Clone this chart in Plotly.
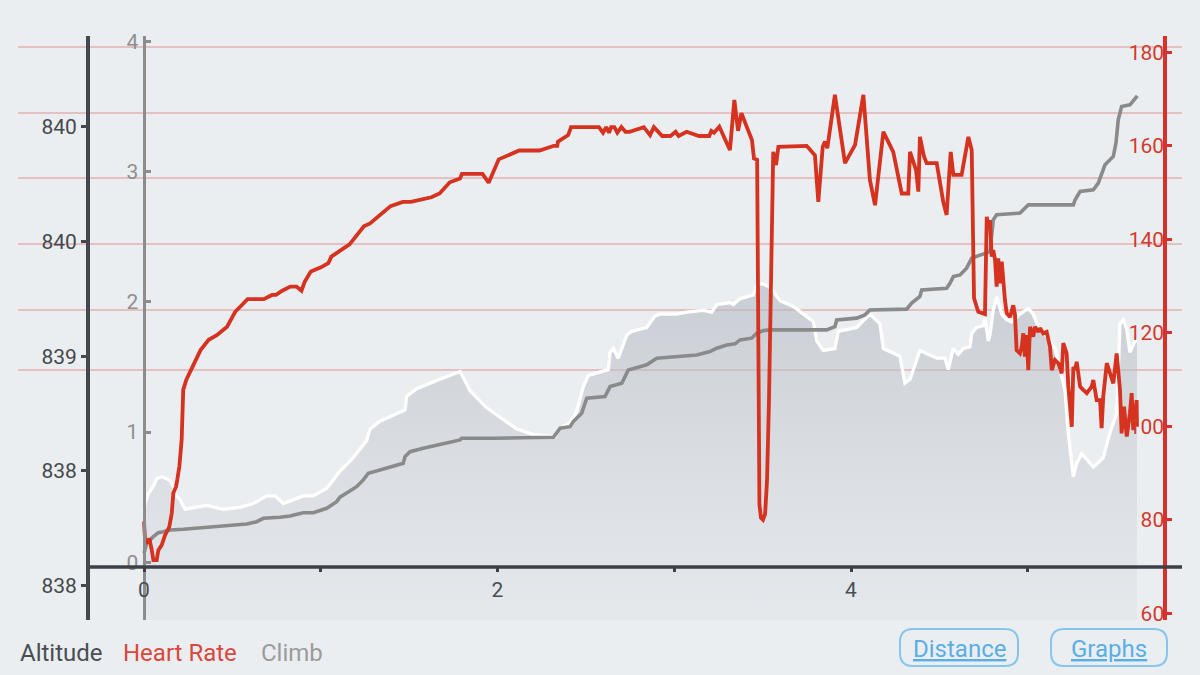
import plotly.graph_objects as go

# ---------------- data ----------------
# Altitude (m) against distance (km)
alt_km = [0, 0.006, 0.024, 0.053, 0.072, 0.100, 0.128, 0.147, 0.166, 0.185,
          0.204, 0.232, 0.355, 0.449, 0.543, 0.618, 0.694, 0.741, 0.788, 0.901,
          0.958, 1.034, 1.109, 1.184, 1.260, 1.279, 1.335, 1.477, 1.486, 1.543,
          1.675, 1.788, 1.806, 1.844, 1.939, 2.014, 2.109, 2.203, 2.325, 2.344,
          2.410, 2.448, 2.485, 2.514, 2.580, 2.627, 2.637, 2.655, 2.683, 2.731,
          2.759, 2.844, 2.891, 2.919, 3.014, 3.070, 3.164, 3.212, 3.240, 3.315,
          3.334, 3.372, 3.447, 3.466, 3.495, 3.542, 3.560, 3.598, 3.674, 3.730,
          3.787, 3.806, 3.843, 3.909, 3.928, 4.032, 4.107, 4.164, 4.183, 4.277,
          4.305, 4.334, 4.390, 4.485, 4.532, 4.550, 4.579, 4.607, 4.635, 4.673,
          4.683, 4.711, 4.749, 4.758, 4.777, 4.786, 4.805, 4.824, 4.853, 4.881,
          4.909, 4.956, 5.003, 5.031, 5.060, 5.088, 5.126, 5.154, 5.183, 5.211,
          5.229, 5.258, 5.277, 5.305, 5.334, 5.371, 5.427, 5.465, 5.503, 5.522,
          5.541, 5.560, 5.578, 5.607, 5.618]
alt_m = [838.18, 838.23, 838.28, 838.32, 838.36, 838.37, 838.36, 838.35, 838.32, 838.27,
         838.25, 838.20, 838.22, 838.20, 838.21, 838.23, 838.27, 838.27, 838.23, 838.27,
         838.27, 838.31, 838.40, 838.47, 838.56, 838.62, 838.66, 838.72, 838.79, 838.83,
         838.88, 838.92, 838.89, 838.82, 838.73, 838.68, 838.62, 838.59, 838.58, 838.62,
         838.65, 838.71, 838.84, 838.90, 838.92, 838.93, 839.02, 839.04, 838.99, 839.11,
         839.13, 839.15, 839.21, 839.22, 839.22, 839.23, 839.24, 839.23, 839.27, 839.28,
         839.27, 839.30, 839.32, 839.37, 839.38, 839.36, 839.34, 839.29, 839.26, 839.22,
         839.18, 839.08, 839.03, 839.04, 839.13, 839.15, 839.22, 839.17, 839.04, 839.00,
         838.86, 838.88, 839.03, 838.99, 838.99, 838.93, 839.04, 839.01, 839.04, 839.05,
         839.12, 839.15, 839.16, 839.20, 839.08, 839.11, 839.24, 839.31, 839.22, 839.19,
         839.18, 839.22, 839.25, 839.22, 839.15, 839.13, 839.08, 839.04, 838.93, 838.82,
         838.60, 838.37, 838.44, 838.49, 838.46, 838.42, 838.47, 838.60, 838.70, 839.17,
         839.19, 839.14, 839.02, 839.08, 839.08]

# Cumulative climb (m) against distance (km)
climb_km = [0, 0.015, 0.053, 0.081, 0.109, 0.147, 0.222, 0.355, 0.449, 0.581,
            0.638, 0.675, 0.769, 0.826, 0.901, 0.958, 1.034, 1.090, 1.109, 1.203,
            1.241, 1.269, 1.335, 1.467, 1.477, 1.505, 1.580, 1.788, 1.797, 1.976,
            2.316, 2.335, 2.354, 2.410, 2.429, 2.476, 2.505, 2.608, 2.637, 2.703,
            2.740, 2.806, 2.844, 2.901, 2.995, 3.127, 3.202, 3.240, 3.297, 3.344,
            3.372, 3.438, 3.466, 3.504, 3.542, 3.862, 3.909, 3.919, 4.032, 4.079,
            4.107, 4.315, 4.343, 4.390, 4.400, 4.541, 4.560, 4.579, 4.617, 4.635,
            4.654, 4.683, 4.786, 4.805, 4.824, 4.956, 5.003, 5.258, 5.268, 5.296,
            5.371, 5.399, 5.437, 5.484, 5.499, 5.512, 5.531, 5.578, 5.607, 5.620]
climb_m = [0.069, 0.146, 0.197, 0.228, 0.235, 0.248, 0.254, 0.269, 0.274, 0.294,
           0.312, 0.338, 0.346, 0.356, 0.381, 0.381, 0.415, 0.466, 0.500, 0.581,
           0.633, 0.684, 0.709, 0.761, 0.812, 0.850, 0.876, 0.940, 0.953, 0.953,
           0.961, 0.992, 1.030, 1.042, 1.081, 1.145, 1.261, 1.273, 1.350, 1.376,
           1.478, 1.503, 1.517, 1.568, 1.580, 1.593, 1.619, 1.645, 1.670, 1.678,
           1.709, 1.722, 1.760, 1.780, 1.786, 1.786, 1.811, 1.862, 1.876, 1.901,
           1.939, 1.945, 1.991, 2.042, 2.093, 2.106, 2.144, 2.195, 2.208, 2.234,
           2.260, 2.337, 2.387, 2.631, 2.670, 2.683, 2.746, 2.746, 2.785, 2.849,
           2.862, 2.913, 3.054, 3.118, 3.221, 3.400, 3.502, 3.515, 3.566, 3.584]

# Heart rate (bpm) against distance (km)
hr_km = [0, 0.006, 0.019, 0.030, 0.044, 0.053, 0.072, 0.081, 0.100, 0.119,
         0.143, 0.157, 0.166, 0.181, 0.188, 0.200, 0.213, 0.222, 0.239, 0.320,
         0.366, 0.412, 0.470, 0.516, 0.586, 0.678, 0.724, 0.747, 0.782, 0.828,
         0.863, 0.891, 0.909, 0.944, 1.001, 1.043, 1.060, 1.094, 1.163, 1.244,
         1.279, 1.395, 1.464, 1.510, 1.626, 1.672, 1.730, 1.788, 1.799, 1.915,
         1.950, 2.007, 2.123, 2.238, 2.319, 2.338, 2.342, 2.400, 2.416, 2.574,
         2.597, 2.615, 2.631, 2.643, 2.661, 2.678, 2.701, 2.724, 2.747, 2.828,
         2.863, 2.885, 2.932, 2.978, 3.008, 3.025, 3.070, 3.140, 3.198, 3.210,
         3.225, 3.255, 3.315, 3.340, 3.361, 3.380, 3.440, 3.451, 3.469, 3.482,
         3.491, 3.502, 3.514, 3.525, 3.536, 3.560, 3.576, 3.589, 3.730, 3.749,
         3.796, 3.815, 3.840, 3.853, 3.866, 3.909, 3.966, 4.023, 4.070, 4.107,
         4.136, 4.183, 4.239, 4.287, 4.324, 4.334, 4.368, 4.381, 4.390, 4.413,
         4.428, 4.485, 4.522, 4.541, 4.564, 4.579, 4.626, 4.664, 4.683, 4.696,
         4.720, 4.758, 4.768, 4.777, 4.786, 4.796, 4.805, 4.815, 4.824, 4.833,
         4.843, 4.853, 4.871, 4.881, 4.900, 4.918, 4.928, 4.937, 4.956, 4.966,
         4.975, 4.984, 4.994, 5.003, 5.013, 5.031, 5.041, 5.060, 5.069, 5.088,
         5.107, 5.126, 5.136, 5.154, 5.173, 5.192, 5.201, 5.220, 5.229, 5.249,
         5.258, 5.268, 5.277, 5.296, 5.314, 5.334, 5.362, 5.371, 5.390, 5.409,
         5.418, 5.427, 5.447, 5.465, 5.484, 5.503, 5.522, 5.531, 5.545, 5.560,
         5.578, 5.588, 5.597, 5.616, 5.618]
hr_bpm = [79.6, 75.7, 75.0, 76.0, 73.5, 71.4, 71.4, 73.5, 74.6, 76.7,
          78.5, 81.4, 85.7, 87.1, 88.5, 91.4, 97.1, 107.8, 109.9, 116.3,
          118.5, 119.5, 121.3, 124.5, 127.2, 127.2, 128.1, 128.1, 129.0, 129.9,
          129.9, 129.0, 130.9, 133.1, 134.0, 134.9, 136.3, 137.1, 138.9, 142.8,
          143.4, 147.1, 148.0, 148.0, 149.0, 149.8, 152.2, 153.0, 154.0, 154.0,
          152.1, 157.1, 159.0, 159.0, 160.0, 160.0, 160.9, 162.3, 164.0, 164.0,
          162.8, 164.0, 162.8, 164.0, 164.0, 162.8, 164.0, 163.0, 163.0, 164.0,
          162.3, 164.0, 162.1, 162.1, 163.0, 162.1, 163.0, 162.1, 162.1, 163.2,
          162.8, 164.1, 159.1, 169.8, 163.2, 167.0, 161.2, 157.3, 157.0, 83.2,
          80.4, 80.0, 81.2, 88.5, 105.6, 158.7, 155.9, 159.8, 160.0, 160.0,
          158.0, 148.0, 159.8, 160.9, 159.5, 170.9, 156.3, 160.2, 170.9, 152.7,
          147.3, 163.0, 158.7, 149.8, 149.8, 158.7, 154.8, 150.2, 161.9, 157.7,
          156.3, 156.3, 148.0, 145.2, 158.7, 153.8, 153.8, 161.9, 159.1, 127.4,
          124.5, 124.0, 144.8, 142.7, 144.1, 136.3, 137.7, 135.6, 129.9, 135.9,
          130.6, 135.2, 127.0, 124.2, 123.4, 125.9, 123.8, 116.3, 115.6, 117.0,
          119.9, 114.9, 119.5, 112.0, 121.3, 119.2, 121.3, 120.2, 121.0, 119.9,
          120.2, 117.0, 112.0, 114.2, 113.5, 111.3, 117.8, 115.6, 108.8, 99.9,
          112.7, 112.0, 113.8, 108.5, 107.8, 107.1, 108.5, 109.9, 105.6, 105.6,
          99.6, 106.3, 113.5, 111.3, 109.2, 115.6, 107.8, 98.5, 104.2, 97.8,
          102.8, 107.1, 99.2, 105.6, 99.9]

# tick values / labels
dist_ticks = [0, 1, 2, 3, 4, 5]
dist_labels = ["0", "", "2", "", "4", ""]
alt_ticks = [837.8, 838.4, 839.0, 839.6, 840.2]
climb_ticks = [0, 1, 2, 3, 4]
hr_ticks = [60, 80, 100, 120, 140, 160, 180]
legend_names = ["Altitude", "Heart Rate", "Climb"]
button_names = ["Distance", "Graphs"]

# ---------------- styling / layout helpers ----------------
W, H = 1200, 675
L, R, T, B = 90, 37, 36, 55
PW, PH = W - L - R, H - T - B
BG = "#ebeef1"
FONT = "Roboto"


def fx(px):
    return (px - L) / PW


def fy(py):
    return (H - B - py) / PH


fig = go.Figure()

fig.add_trace(go.Scatter(
    x=alt_km, y=alt_m, yaxis="y", mode="lines",
    line=dict(color="#ffffff", width=3.3),
    fill="tozeroy",
    fillgradient=dict(type="vertical", start=837.62, stop=839.4,
                      colorscale=[[0, "rgba(205,209,215,0.22)"],
                                  [1, "rgba(178,184,193,0.62)"]]),
    hoverinfo="skip"))

fig.add_trace(go.Scatter(
    x=climb_km, y=climb_m, yaxis="y2", mode="lines",
    line=dict(color="#8a8a8a", width=3.6), hoverinfo="skip"))

fig.add_trace(go.Scatter(
    x=hr_km, y=hr_bpm, yaxis="y3", mode="lines",
    line=dict(color="#d5321f", width=3.8), hoverinfo="skip"))

shapes = []
# decorative red rules across the chart
for gy in [47, 113, 178, 244, 310, 370]:
    shapes.append(dict(type="line", xref="paper", yref="paper",
                       x0=fx(18), x1=fx(1182), y0=fy(gy), y1=fy(gy),
                       line=dict(color="rgba(214,90,80,0.6)", width=1),
                       layer="below"))
# distance baseline
shapes.append(dict(type="line", xref="paper", yref="paper",
                   x0=fx(90), x1=fx(1182), y0=fy(567), y1=fy(567),
                   line=dict(color="#3d4046", width=3.5), layer="above"))


def rounded_box(x0, y0, x1, y1, r):
    ax0, ax1 = fx(x0), fx(x1)
    ay0, ay1 = fy(y1), fy(y0)  # bottom, top in paper
    rx, ry = r / PW, r / PH
    return (f"M {ax0+rx},{ay0} L {ax1-rx},{ay0} Q {ax1},{ay0} {ax1},{ay0+ry} "
            f"L {ax1},{ay1-ry} Q {ax1},{ay1} {ax1-rx},{ay1} "
            f"L {ax0+rx},{ay1} Q {ax0},{ay1} {ax0},{ay1-ry} "
            f"L {ax0},{ay0+ry} Q {ax0},{ay0} {ax0+rx},{ay0} Z")


boxes = [(900, 629, 1018, 666), (1051, 629, 1167, 666)]
for (bx0, by0, bx1, by1) in boxes:
    shapes.append(dict(type="path", xref="paper", yref="paper",
                       path=rounded_box(bx0, by0, bx1, by1, 13),
                       line=dict(color="#86c6ee", width=2),
                       fillcolor="rgba(0,0,0,0)", layer="above"))

annotations = []
legend_colors = ["#4a4d52", "#d9473d", "#9b9b9b"]
legend_x = [18, 121, 259]
for name, col, lx in zip(legend_names, legend_colors, legend_x):
    annotations.append(dict(text=name, xref="paper", yref="paper",
                            x=fx(lx), y=fy(653), xanchor="left", yanchor="middle",
                            showarrow=False,
                            font=dict(family=FONT, size=24, color=col)))
for name, (bx0, by0, bx1, by1) in zip(button_names, boxes):
    annotations.append(dict(text=f"<u>{name}</u>", xref="paper", yref="paper",
                            x=fx((bx0 + bx1) / 2), y=fy((by0 + by1) / 2 + 1),
                            xanchor="center", yanchor="middle", showarrow=False,
                            font=dict(family=FONT, size=24, color="#5aaee6")))

fig.update_layout(
    width=W, height=H,
    margin=dict(l=L, r=R, t=T, b=B),
    paper_bgcolor=BG, plot_bgcolor="rgba(0,0,0,0)",
    showlegend=False, hovermode=False,
    font=dict(family=FONT),
    shapes=shapes, annotations=annotations,
    xaxis=dict(range=[(L - 144) / 176.75, (W - R - 144) / 176.75],
               anchor="free", position=fy(567),
               tickvals=dist_ticks, ticktext=dist_labels,
               ticks="outside", ticklen=4, tickwidth=3, tickcolor="#3d4046",
               showline=False, showgrid=False, zeroline=False,
               tickfont=dict(family=FONT, size=21, color="#4a4d52")),
    yaxis=dict(range=[837.621, 840.674], tickvals=alt_ticks, tickformat=".0f",
               showline=True, linecolor="#45484d", linewidth=4,
               ticks="outside", ticklen=5, tickwidth=3, tickcolor="#45484d",
               showgrid=False, zeroline=False,
               tickfont=dict(family=FONT, size=21, color="#45484d")),
    yaxis2=dict(overlaying="y", anchor="free", position=fx(143.5), side="left",
                range=[-0.4435, 4.0438], tickvals=climb_ticks,
                showline=True, linecolor="#8c8c8c", linewidth=3,
                ticks="inside", ticklen=5, tickwidth=3, tickcolor="#8c8c8c",
                showgrid=False, zeroline=False,
                tickfont=dict(family=FONT, size=21, color="#8f8f8f")),
    yaxis3=dict(overlaying="y", anchor="x", side="right",
                range=[58.567, 183.49], tickvals=hr_ticks,
                ticklabelposition="inside", ticklabeloverflow="allow",
                showline=True, linecolor="#d8302a", linewidth=3.5,
                ticks="outside", ticklen=5, tickwidth=3, tickcolor="#d8302a",
                showgrid=False, zeroline=False,
                tickfont=dict(family=FONT, size=21, color="#d23a2c")),
)

fig.write_html(
    "out.html",
    config={"displayModeBar": False, "staticPlot": True},
    post_script="document.body.style.margin='0';document.body.style.background='%s';" % BG,
)
